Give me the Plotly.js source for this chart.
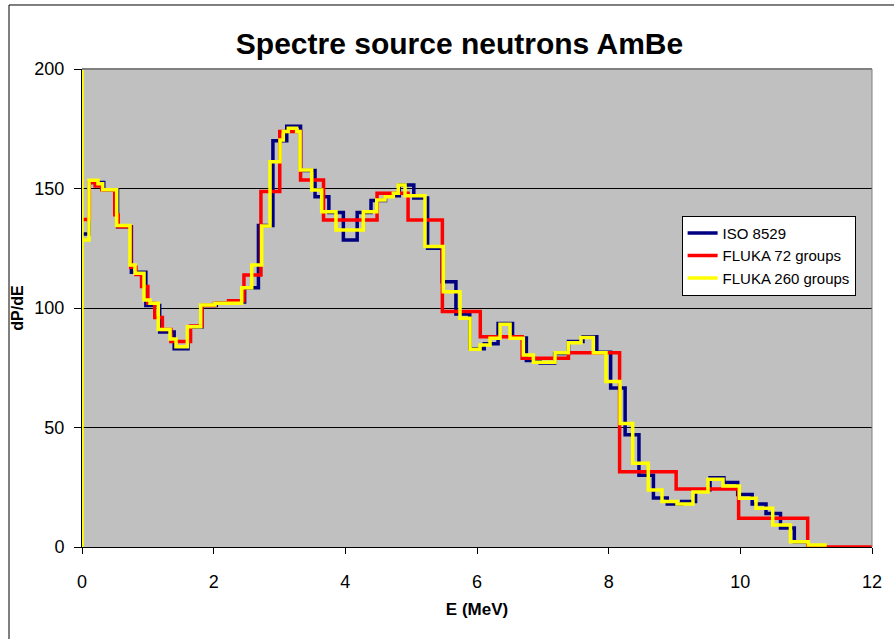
<!DOCTYPE html>
<html>
<head>
<meta charset="utf-8">
<script src="https://cdn.plot.ly/plotly-3.0.1.min.js"></script>
<style>html,body{margin:0;padding:0;background:#fff;}#chart{width:894px;height:639px;}</style>
</head>
<body>
<div id="chart"></div>
<script>
// ISO 8529 bins (lower edges + last upper edge) and dP/dE values
const isoEdges = [0, 0.11, 0.33, 0.54, 0.75, 0.97, 1.18, 1.40, 1.61, 1.82, 2.04, 2.25, 2.47, 2.68, 2.90, 3.11, 3.32, 3.54, 3.75, 3.97, 4.18, 4.39, 4.61, 4.82, 5.04, 5.25, 5.47, 5.68, 5.89, 6.11, 6.32, 6.54, 6.75, 6.96, 7.18, 7.39, 7.61, 7.82, 8.03, 8.25, 8.46, 8.68, 8.89, 9.11, 9.32, 9.54, 9.75, 9.96, 10.18, 10.39, 10.61, 10.82, 11.03];
const isoValues = [131, 152.5, 149.5, 134, 115, 101, 90, 83, 92, 101, 102, 102.5, 108.5, 134.5, 170, 176, 157.5, 146.5, 140, 128.5, 140, 145, 147, 151.5, 146, 125, 111, 97.5, 83, 85, 93.5, 87.5, 78, 77, 81, 86, 88, 81.5, 66.5, 47, 30, 20.5, 18, 19, 24, 29, 27, 22, 18, 14, 8, 2.2];

// FLUKA 72 groups
const f72Edges = [0, 0.111, 0.2, 0.301, 0.497, 0.549, 0.741, 0.819, 0.905, 1.0, 1.105, 1.221, 1.35, 1.492, 1.649, 1.822, 2.014, 2.226, 2.46, 2.718, 3.004, 3.32, 3.669, 4.055, 4.482, 4.953, 5.474, 6.05, 6.686, 7.389, 8.166, 9.025, 9.974, 11.023, 12];
const f72Values = [137, 152.5, 151, 149.5, 139, 134, 117, 114, 109, 102, 96, 91, 86, 86, 92.5, 101, 102, 103, 113.8, 148.7, 173.8, 153.6, 136.8, 136.8, 148, 136.8, 98.5, 88, 79, 81.3, 31.5, 24.3, 12, 0];

// FLUKA 260 groups
const f260Edges = [0, 0, 0, 0.106, 0.243, 0.314, 0.527, 0.729, 0.805, 0.942, 1.033, 1.159, 1.337, 1.428, 1.600, 1.803, 2.020, 2.426, 2.578, 2.730, 2.856, 3.008, 3.058, 3.134, 3.261, 3.312, 3.489, 3.641, 3.858, 4.273, 4.477, 4.603, 4.729, 4.805, 4.907, 5.210, 5.488, 5.742, 5.894, 6.046, 6.198, 6.350, 6.502, 6.704, 6.856, 7.185, 7.387, 7.580, 7.767, 7.960, 8.173, 8.365, 8.602, 8.810, 9.038, 9.281, 9.509, 9.737, 9.985, 10.238, 10.492, 10.761, 11.033, 11.312];
const f260Values = [0, 250, 128.5, 153.5, 152, 149.5, 134.5, 118, 114.5, 103.3, 102, 91, 87, 83.8, 92.2, 101.3, 102, 108.5, 118, 134.3, 161.2, 170.3, 173.8, 175.2, 173.8, 157.7, 149.4, 140.3, 132.6, 140.3, 145.2, 146.6, 148, 151.5, 147, 125.7, 106.8, 95.7, 82.7, 84.5, 87.3, 93.2, 87.3, 80.3, 77.3, 81.3, 85.5, 87.7, 81.3, 69.2, 51.7, 35, 23.8, 19, 18, 23, 28.3, 25.5, 20.4, 16.2, 9.2, 2.2, 0.8];

const seriesNames = ['ISO 8529', 'FLUKA 72 groups', 'FLUKA 260 groups'];
const xTicks = [0, 2, 4, 6, 8, 10, 12];
const yTicks = [0, 50, 100, 150, 200];

function stepTrace(edges, values, name, color) {
  const y = values.concat([values[values.length - 1]]);
  return {
    x: edges, y: y, name: name, type: 'scatter', mode: 'lines',
    line: {shape: 'hv', color: color, width: 3.5}
  };
}

const FONT = 'Arial, "Liberation Sans", sans-serif';
const data = [
  stepTrace(isoEdges, isoValues, seriesNames[0], '#000080'),
  stepTrace(f72Edges, f72Values, seriesNames[1], '#FF0000'),
  stepTrace(f260Edges, f260Values, seriesNames[2], '#FFFF00')
];

const layout = {
  width: 894, height: 639,
  margin: {l: 82, r: 22, t: 69, b: 92, pad: 0},
  paper_bgcolor: '#ffffff',
  plot_bgcolor: '#C0C0C0',
  font: {family: FONT, color: '#000'},
  title: {
    text: 'Spectre source neutrons AmBe',
    font: {family: FONT, size: 30, weight: 'bold', color: '#000'},
    xref: 'container', x: 0.514, xanchor: 'center',
    yref: 'container', y: 0.932, yanchor: 'middle'
  },
  xaxis: {
    range: [0, 12], tickvals: xTicks, ticktext: xTicks.map(String),
    ticks: 'outside', ticklen: 6, tickcolor: '#000', tickwidth: 1,
    showline: true, linecolor: '#000', linewidth: 1,
    showgrid: false, zeroline: false,
    tickfont: {family: FONT, size: 18, color: '#000'},
    ticklabelstandoff: 12,
    title: {text: 'E (MeV)', font: {family: FONT, size: 17, weight: 'bold', color: '#000'}, standoff: 12}
  },
  yaxis: {
    range: [0, 200], tickvals: yTicks, ticktext: yTicks.map(String),
    ticks: 'outside', ticklen: 7, tickcolor: '#000', tickwidth: 1,
    showline: true, linecolor: '#000', linewidth: 1,
    showgrid: true, gridcolor: '#000', gridwidth: 1, zeroline: false,
    tickfont: {family: FONT, size: 18, color: '#000'},
    ticklabelstandoff: 6,
    title: {text: 'dP/dE', font: {family: FONT, size: 16, weight: 'bold', color: '#000'}, standoff: 6}
  },
  legend: {
    x: 0.759, y: 0.693, xanchor: 'left', yanchor: 'top',
    bgcolor: '#ffffff', bordercolor: '#000', borderwidth: 1,
    font: {family: FONT, size: 15, color: '#000'},
    tracegroupgap: 0
  },
  shapes: [
    {type: 'line', xref: 'paper', yref: 'paper', x0: 0, x1: 1, y0: 1, y1: 1, line: {color: '#808080', width: 2}, layer: 'above'},
    {type: 'line', xref: 'paper', yref: 'paper', x0: 1, x1: 1, y0: 0, y1: 1, line: {color: '#808080', width: 1}, layer: 'above'},
    {type: 'rect', xref: 'paper', yref: 'paper', x0: -0.0924, x1: 1.04, y0: -0.21, y1: 1.1339, line: {color: '#000', width: 1}, fillcolor: 'rgba(0,0,0,0)'}
  ],
  showlegend: true
};

Plotly.newPlot('chart', data, layout, {displayModeBar: false, staticPlot: true});
</script>
</body>
</html>
